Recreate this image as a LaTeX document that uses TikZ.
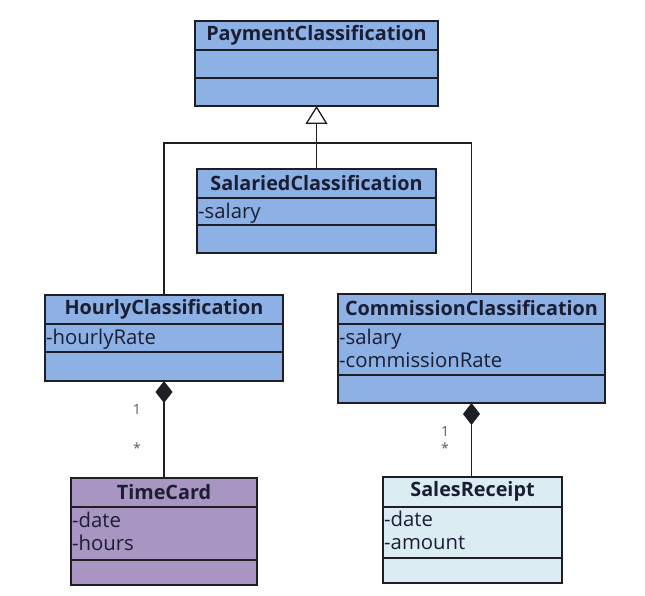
\documentclass[tikz,border=0pt]{standalone}
\usepackage{fontspec}
\setmainfont{Open Sans}
\usetikzlibrary{arrows.meta}
\definecolor{cblue}{HTML}{8DB0E5}
\definecolor{cpurple}{HTML}{A895C2}
\definecolor{clight}{HTML}{DCECF3}
\definecolor{ctext}{HTML}{1A1E33}
\definecolor{cline}{HTML}{1E1E24}
\tikzset{
  classbox/.style={draw=cline, line width=1.4pt, anchor=north west, inner sep=0pt, outer sep=0pt},
  divider/.style={draw=cline, line width=1.2pt},
  ctitle/.style={font=\fontsize{19.8}{22}\selectfont\bfseries, text=ctext, inner sep=0pt},
  cattr/.style={font=\fontsize{20.3}{23}\selectfont, text=ctext, inner sep=0pt, anchor=north west, align=left},
  conn/.style={draw=cline, line width=1.3pt},
  mult/.style={font=\fontsize{14}{14}\selectfont, text=black!65, inner sep=0pt}
}
\begin{document}
\begin{tikzpicture}[x=1pt,y=-1pt]
\useasboundingbox (0,0) rectangle (645,596);
% PaymentClassification
\node[classbox, fill=cblue, minimum width=243pt, minimum height=85pt] (pay) at (195,21) {};
\draw[divider] (195,50) -- (438,50);
\draw[divider] (195,78) -- (438,78);
\node[ctitle] (payT) at (316.5,35) {PaymentClassification};
% SalariedClassification
\node[classbox, fill=cblue, minimum width=239pt, minimum height=84pt] (sal) at (197,169) {};
\draw[divider] (197,198) -- (436,198);
\draw[divider] (197,225) -- (436,225);
\node[ctitle] (salT) at (316.5,183) {SalariedClassification};
\node[cattr] (salA) at (198,203) {-salary};
% HourlyClassification
\node[classbox, fill=cblue, minimum width=238pt, minimum height=86pt] (hour) at (45,295) {};
\draw[divider] (45,324) -- (283,324);
\draw[divider] (45,352) -- (283,352);
\node[ctitle] (hourT) at (164,309) {HourlyClassification};
\node[cattr] (hourA) at (46,329) {-hourlyRate};
% CommissionClassification
\node[classbox, fill=cblue, minimum width=267pt, minimum height=109pt] (comm) at (338,294) {};
\draw[divider] (338,324) -- (605,324);
\draw[divider] (338,375) -- (605,375);
\node[ctitle] (commT) at (471.5,308) {CommissionClassification};
\node[cattr] (commA) at (339,329) {-salary\\-commissionRate};
% TimeCard
\node[classbox, fill=cpurple, minimum width=186pt, minimum height=107pt] (tc) at (71,478) {};
\draw[divider] (71,507) -- (257,507);
\draw[divider] (71,560) -- (257,560);
\node[ctitle] (tcT) at (164,492) {TimeCard};
\node[cattr] (tcA) at (72,512) {-date\\-hours};
% SalesReceipt
\node[classbox, fill=clight, minimum width=179pt, minimum height=106pt] (sr) at (383,477) {};
\draw[divider] (383,507) -- (562,507);
\draw[divider] (383,558) -- (562,558);
\node[ctitle] (srT) at (472.5,491) {SalesReceipt};
\node[cattr] (srA) at (384,511) {-date\\-amount};
% generalization
\coordinate (j) at (316.5,143);
\draw[conn, -{Triangle[open, width=22pt, length=18pt, line width=1.3pt, fill=white]}] (sal.north) -- (pay.south);
\draw[conn] (hour.north) |- (j) -| (comm.north);
% composition
\draw[conn, {Diamond[width=17pt, length=22pt]}-] (hour.south) -- (tc.north);
\draw[conn, {Diamond[width=17pt, length=22pt]}-] (comm.south) -- (comm.south |- sr.north);
% multiplicities
\node[mult] (m1) at (137,410) {1};
\node[mult] (m2) at (137,448) {*};
\node[mult] (m3) at (445,432) {1};
\node[mult] (m4) at (445,448) {*};
\end{tikzpicture}
\end{document}
